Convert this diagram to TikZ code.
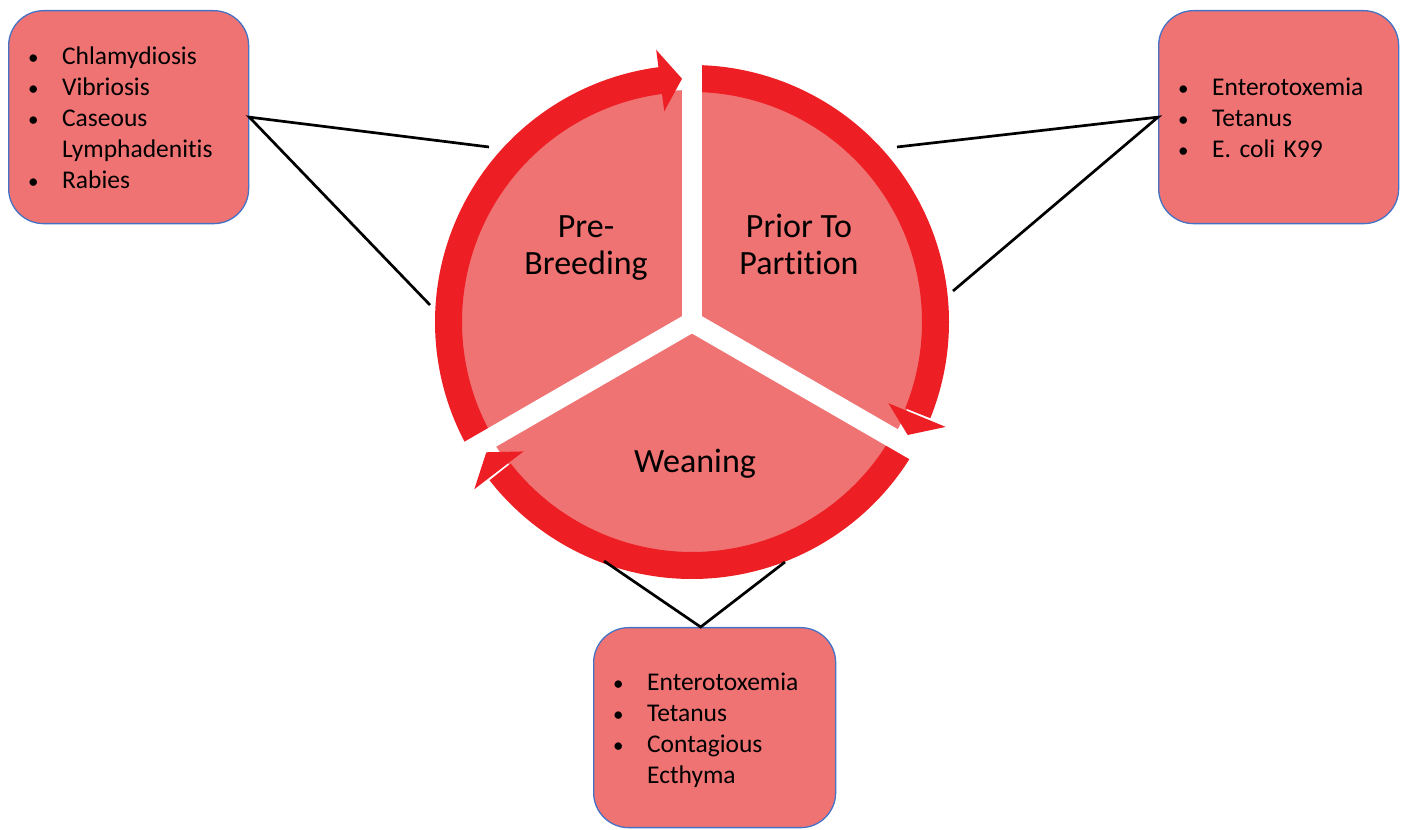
\documentclass[tikz,border=0pt]{standalone}
\usepackage{fontspec}
\setmainfont{Carlito}[Ligatures=NoCommon]
\usetikzlibrary{calc}
\definecolor{pinkfill}{RGB}{240,115,115}
\definecolor{ringred}{RGB}{237,30,36}
\definecolor{boxblue}{RGB}{68,114,196}
\tikzset{
  boxnode/.style={draw=boxblue, line width=1.3pt, fill=pinkfill, rounded corners=35pt,
    anchor=north west, inner xsep=18.5pt, inner ysep=0pt, align=left,
    font=\fontsize{25.5}{31}\selectfont},
  ringarc/.style={draw=ringred, line width=27pt},
  headfill/.style={fill=ringred},
  gapstrip/.style={draw=white, line width=20pt},
  conn/.style={draw=black, line width=2.7pt},
  lbl/.style={font=\fontsize{34}{37}\selectfont, align=center, anchor=base, inner sep=0pt}
}
\newcommand{\bulletlist}[1]{\raisebox{-3pt}[\height][\depth]{\begin{tabular}{@{}p{35pt}@{}l@{}}#1\end{tabular}}}
\newcommand{\bul}{\hspace{1pt}{\fontsize{21}{31}\selectfont\textbullet}}
\begin{document}
\begin{tikzpicture}[x=1pt,y=1pt]
\useasboundingbox (0,0) rectangle (1403,830);
% pie and ring
\begin{scope}[shift={(692,508)}]
  \fill[pinkfill] (0,0) circle[radius=232];
  \draw[ringarc] (210:243.5) arc[start angle=210, end angle=97, radius=243.5];
  \fill[headfill] (97.5:212.5) -- (92.35:243.5) -- (97.5:274.5) -- cycle;
  \draw[ringarc] (90:243.5) arc[start angle=90, end angle=-22, radius=243.5];
  \fill[headfill] (-22.47:212.5) -- (-27.65:243.5) -- (-22.47:274.5) -- cycle;
  \draw[ringarc] (-30:243.5) arc[start angle=-30, end angle=-142, radius=243.5];
  \fill[headfill] (-142.47:212.5) -- (-147.65:243.5) -- (-142.47:274.5) -- cycle;
  \draw[gapstrip] (0,0) -- (90:262);
  \draw[gapstrip] (0,0) -- (210:262);
  \draw[gapstrip] (0,0) -- (330:262);
\end{scope}
% labels
\node[lbl] (prebreed) at (586,555) {Pre-\\Breeding};
\node[lbl] (prior) at (799,555) {Prior To\\Partition};
\node[lbl] (wean) at (695,357) {Weaning};
% boxes
\node[boxnode, text width=203pt, minimum height=213pt] (lbox) at (8,820)
  {\bulletlist{\bul & Chlamydiosis\\ \bul & Vibriosis\\ \bul & Caseous\\ & Lymphadenitis\\ \bul & Rabies}};
\node[boxnode, text width=203pt, minimum height=213pt] (rbox) at (1158,820)
  {\bulletlist{\bul & Enterotoxemia\\ \bul & Tetanus\\ \bul & E. coli K99}};
\node[boxnode, text width=205pt, minimum height=200pt] (bbox) at (593,203)
  {\bulletlist{\bul & Enterotoxemia\\ \bul & Tetanus\\ \bul & Contagious\\ & Ecthyma}};
% connector ends
\coordinate (l1) at (489,683);
\coordinate (l2) at (430,525);
\coordinate (r1) at (897,683);
\coordinate (r2) at (953,539);
\coordinate (bapex) at ($(bbox.north)+(-14,0)$);
\coordinate (b1) at (604,269);
\coordinate (b2) at (785,268);
\draw[conn] (l1) -- (lbox.east) -- (l2);
\draw[conn] (r1) -- (rbox.west) -- (r2);
\draw[conn] (b1) -- (bapex) -- (b2);
\end{tikzpicture}
\end{document}
